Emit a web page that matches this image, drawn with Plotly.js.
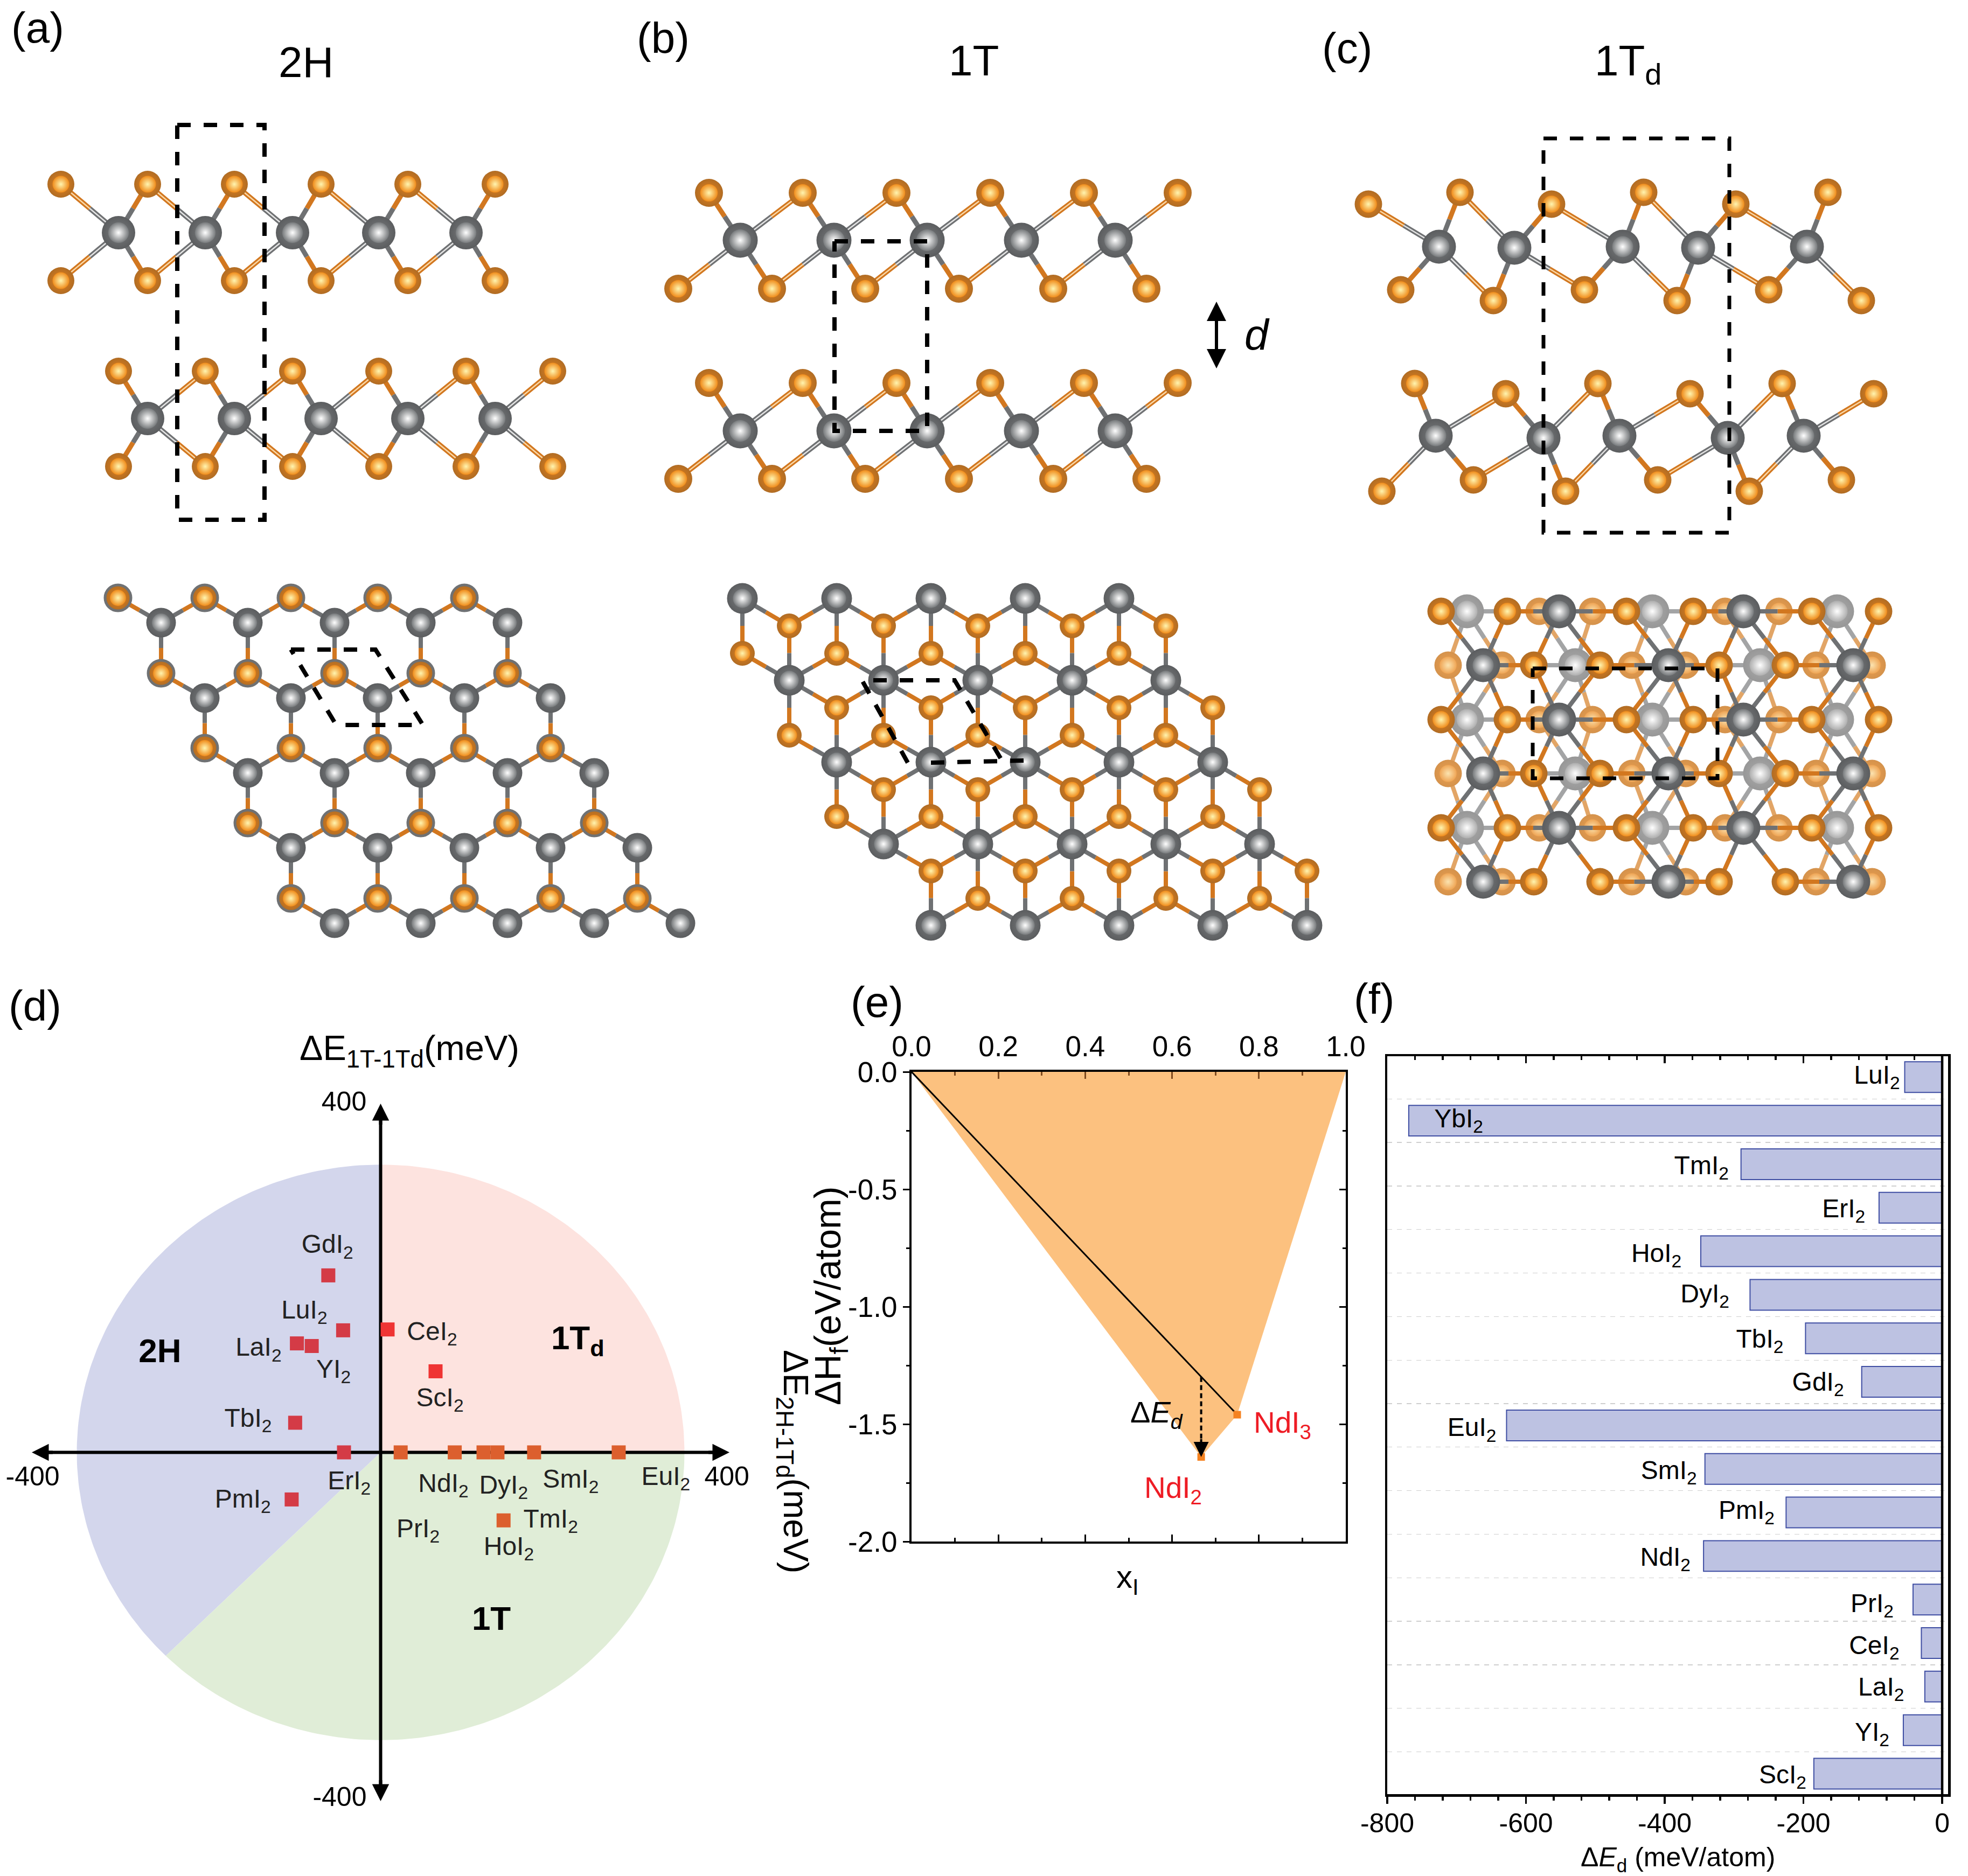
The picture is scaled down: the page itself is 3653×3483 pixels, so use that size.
<!DOCTYPE html>
<html><head><meta charset="utf-8">
<script src="https://cdn.plot.ly/plotly-3.0.1.min.js"></script>
<style>html,body{margin:0;padding:0;background:#fff}</style></head>
<body><div id="chart" style="width:3653px;height:3483px"></div>
<script>
// ---------- panel (d) values ----------
const dNames = ['GdI','LuI','CeI','LaI','YI','ScI','TbI','ErI','PmI','PrI','NdI','DyI','HoI','SmI','EuI','TmI'];
const dX = [-60,-43,8,-96,-79,63,-98,-42,-102,23,85,118,134,176,273,141];
const dY = [203,140,141,125,122,93,34,0,-54,0,0,0,0,0,0,-78];
const dLabelNames = ['GdI','LuI','CeI','LaI','YI','ScI','TbI','ErI','PmI','NdI','DyI','SmI','EuI','PrI','TmI','HoI'];
const dLabelX = [-61,-87.5,59,-140,-54,68,-152,-36,-158,72,141,218,327,43,195,147];
const dLabelY = [236,161,136,118,93,60,37,-35,-56,-38,-40,-33,-30,-90,-79,-110];
// ---------- panel (e) values ----------
const eHullX = [0,0.667,0.75,1,0];
const eHullY = [0,-1.64,-1.46,0,0];
const eTieX = [0,0.75];
const eTieY = [0,-1.46];
const ePhaseX = [0.667,0.75];
const ePhaseY = [-1.64,-1.46];
const eXTicks = [0,0.2,0.4,0.6,0.8,1];
const eXText = ['0.0','0.2','0.4','0.6','0.8','1.0'];
const eYTicks = [0,-0.5,-1,-1.5,-2];
const eYText = ['0.0','-0.5','-1.0','-1.5','-2.0'];
// ---------- panel (f) values ----------
const fNames = ['LuI','YbI','TmI','ErI','HoI','DyI','TbI','GdI','EuI','SmI','PmI','NdI','PrI','CeI','LaI','YI','ScI'];
const fValues = [-54,-769,-290,-91,-348,-277,-197,-116,-628,-342,-225,-344,-42,-30,-25,-56,-185];
const fLabelX = [-94,-697,-347,-142,-412,-342,-263,-179,-678,-394,-282,-399,-101,-98,-88,-101,-230];
const fLabelY = [0,1,2.08,3.07,4.1,5.03,6.07,7.05,8.1,9.08,10,11.07,12.14,13.1,14.06,15.1,16.07];
const fXTicks = [-800,-600,-400,-200,0];
const fXText = ['-800','-600','-400','-200','0'];
// ---------- crystal structures: [row y, [atom x ...]] ----------
const aSideI = [[342,[113,274,435,596,757,919]],[521,[113,274,435,596,757,919]],[689,[220,381,543,703,865,1026]],[866,[220,381,543,703,865,1026]]];
const aSideM = [[432,[220,381,543,703,865]],[777,[274,435,596,757,919]]];
const aTopI = [[1110,[219,380,540,701,862]],[1250,[299,460,621,781,942]],[1389,[380,540,701,862,1022]],[1528,[460,621,781,942,1103]],[1668,[540,701,862,1022,1183]]];
const aTopM = [[1156,[299,460,621,781,942]],[1296,[380,540,701,862,1022]],[1435,[460,621,781,942,1103]],[1574,[540,701,862,1022,1183]],[1714,[621,781,942,1103,1263]]];
const bSideI = [[358,[1316,1490,1664,1838,2012,2186]],[536,[1259,1433,1606,1780,1955,2128]],[711,[1316,1490,1664,1838,2012,2186]],[889,[1259,1433,1606,1780,1955,2128]]];
const bSideM = [[446,[1374,1548,1721,1896,2070]],[800,[1374,1548,1721,1896,2070]]];
const bTopI = [[1162,[1465,1640,1815,1990,2164]],[1213,[1378,1553,1728,1903,2077]],[1314,[1553,1728,1903,2077,2251]],[1365,[1465,1640,1815,1990,2164]],[1466,[1640,1815,1990,2164,2338]],[1516,[1553,1728,1903,2077,2251]],[1617,[1728,1903,2077,2251,2426]],[1668,[1815,1990,2164,2338]]];
const bTopM = [[1111,[1378,1553,1728,1903,2077]],[1263,[1465,1640,1815,1990,2164]],[1415,[1553,1728,1903,2077,2251]],[1567,[1640,1815,1990,2164,2338]],[1718,[1728,1903,2077,2251,2426]]];
const cSideI = [[379,[2540,2880,3222]],[357,[2710,3051,3393]],[538,[2600,2941,3283]],[558,[2772,3113,3455]],[712,[2626,2966,3308]],[731,[2795,3137,3478]],[912,[2565,2906,3247]],[891,[2735,3077,3418]]];
const cSideMTop = [[458,[2671,3012,3354]],[460,[2811,3152]]];
const cSideMBottom = [[809,[2665,3006,3348]],[813,[2865,3207]]];
const cTopFrontI = [[1135,[2675,2798,3019,3143,3363,3487]],[1235,[2847,2970,3191,3314]],[1336,[2675,2798,3019,3143,3363,3487]],[1436,[2847,2970,3191,3314]],[1537,[2675,2798,3019,3143,3363,3487]],[1637,[2847,2970,3191,3314]]];
const cTopFrontM = [[1135,[2894,3236]],[1235,[2753,3097,3440]],[1336,[2894,3236]],[1436,[2753,3097,3440]],[1537,[2894,3236]],[1637,[2753,3097,3440]]];
const cTopBackI = [[1135,[2857,2956,3202,3302]],[1235,[2688,2788,3029,3129,3371,3475]],[1336,[2857,2956,3202,3302]],[1436,[2688,2788,3029,3129,3371,3475]],[1537,[2857,2956,3202,3302]],[1637,[2688,2788,3029,3129,3371,3475]]];
const cTopBackM = [[1135,[2723,3067,3410]],[1235,[2924,3267]],[1336,[2723,3067,3410]],[1436,[2924,3267]],[1537,[2723,3067,3410]]];
// unit-cell outlines (x list, y list)
const aSideCell = [[329,491,491,329,329],[232,232,965,965,232]];
const aTopCell = [[540,697,785,624,540],[1206,1206,1346,1346,1206]];
const bSideCell = [[1549,1721,1721,1549,1549],[448,448,800,800,448]];
const bTopCell = [[1685,1600,1772,1861,null,1728,1902],[1416,1263,1263,1414,null,1416,1412]];
const cSideCell = [[2865,3210,3210,2865,2865],[257,257,989,989,257]];
const cTopCell = [[2845,3188,3188,2845,2845],[1241,1241,1445,1445,1241]];

// ---------- helpers ----------
const W = 3653, H = 3483, FONT = '"Liberation Sans", Arial, sans-serif';
const ORANGE = '#d2771f', GREY = '#6f7173';
const data = [];
function flat(rows){const o=[];rows.forEach(r=>r[1].forEach(x=>o.push([x,r[0]])));return o;}
function domX(a,b){return [a/W,b/W];}
function domY(top,bottom){return [1-bottom/H,1-top/H];}
function bonds(M,I,maxD,width,stripeMin,pale){
  const ox=[],oy=[],gx=[],gy=[],sox=[],soy=[],sgx=[],sgy=[];
  M.forEach(m=>I.forEach(i=>{
    const d=Math.hypot(m[0]-i[0],m[1]-i[1]);
    if(d>maxD) return;
    const mx=(m[0]+i[0])/2,my=(m[1]+i[1])/2;
    ox.push(i[0],mx,null);oy.push(i[1],my,null);
    gx.push(mx,m[0],null);gy.push(my,m[1],null);
    if(stripeMin&&d>stripeMin){sox.push(i[0],mx,null);soy.push(i[1],my,null);sgx.push(mx,m[0],null);sgy.push(my,m[1],null);}
  }));
  const add=(x,y,c,w)=>data.push({type:'scatter',mode:'lines',x,y,xaxis:'x',yaxis:'y',line:{color:c,width:w},hoverinfo:'skip',showlegend:false});
  add(ox,oy,pale?'#e2a566':ORANGE,width);add(gx,gy,pale?'#a3a4a5':GREY,width);
  if(sox.length){add(sox,soy,'#fbd9a8',2.5);add(sgx,sgy,'#e6e6e6',2.5);}
}
const PALETTE = {
  I:{edge:'#b06c24',mid:'#e98319',hi:'#fff5b0',hiEdge:'#f08d1c'},
  M:{edge:'#5b5d5f',mid:'#7b7d7f',hi:'#ffffff',hiEdge:'#777a7c'},
  Ib:{edge:'#d4924c',mid:'#eda04e',hi:'#fbe3b0',hiEdge:'#efa555'},
  Mb:{edge:'#979797',mid:'#ababab',hi:'#ffffff',hiEdge:'#aeaeae'}
};
function atoms(list,d,kind,ring){
  const c = PALETTE[kind];
  const x=list.map(p=>p[0]),y=list.map(p=>p[1]);
  const base={type:'scatter',mode:'markers',x,y,xaxis:'x',yaxis:'y',hoverinfo:'skip',showlegend:false,cliponaxis:false};
  data.push(Object.assign({},base,{marker:{size:d,color:c.edge,gradient:{type:'radial',color:c.mid},line:ring?{width:5,color:GREY}:{width:0}}}));
  data.push(Object.assign({},base,{marker:{size:d*0.62,color:c.hiEdge,opacity:0.999,gradient:{type:'radial',color:c.hi},line:{width:0}}}));
}
function cell(c,w){
  data.push({type:'scatter',mode:'lines',x:c[0],y:c[1],xaxis:'x',yaxis:'y',line:{color:'#000',width:w||8,dash:'25px,24px'},hoverinfo:'skip',showlegend:false});
}
function structure(I,M,maxD,dI,dM,bw,stripe,ring){
  const i=flat(I),m=flat(M);
  bonds(m,i,maxD,bw,stripe);
  atoms(i,dI,'I',ring);
  atoms(m,dM,'M');
}
const sub2 = s => s+'<sub>2</sub>';
const anns = [];
function txt(x,y,text,size,o){
  anns.push(Object.assign({xref:'x',yref:'y',x,y,text,showarrow:false,xanchor:'center',yanchor:'middle',font:{family:FONT,size,color:'#000'}},o||{}));
}
function arrowHead(xr,yr,x,y,ax,ay,width,size,color){
  anns.push({xref:xr,yref:yr,axref:xr,ayref:yr,x,y,ax,ay,text:'',showarrow:true,arrowhead:2,arrowwidth:width,arrowsize:size,arrowcolor:color||'#000',standoff:0,startstandoff:0});
}

// ---------- crystal structures ----------
structure(aSideI,aSideM,150,50,62,9,125);
structure(aTopI,aTopM,100,48,55,8,0,true);
structure(bSideI,bSideM,150,52,65,9,125);
structure(bTopI,bTopM,105,46,57,8);
(function(){
  const i=flat(cSideI),mt=flat(cSideMTop),mb=flat(cSideMBottom);
  bonds(mt,i,160,9,125);bonds(mb,i,160,9,125);
  atoms(i,51,'I');atoms(mt.concat(mb),63,'M');
  const bi=flat(cTopBackI),bm=flat(cTopBackM),fi=flat(cTopFrontI),fm=flat(cTopFrontM);
  bonds(bm,bi,140,8,0,true);
  atoms(bi,51,'Ib');atoms(bm,63,'Mb');
  bonds(fm,fi,130,8);
  atoms(fi,51,'I');atoms(fm,63,'M');
})();
cell(aSideCell);cell(aTopCell);cell(bSideCell);cell(bTopCell);cell(cSideCell,7);cell(cTopCell,7);
// interlayer distance marker
data.push({type:'scatter',mode:'lines',x:[2258,2258],y:[590,655],xaxis:'x',yaxis:'y',line:{color:'#000',width:6},hoverinfo:'skip',showlegend:false});
arrowHead('x','y',2258,560,2258,600,6,1.2);
arrowHead('x','y',2258,684,2258,644,6,1.2);

// ---------- panel (d) ----------
const RX=348.4, RY=330;
function wedge(a0,a1,color){ // region outline of the phase map
  const x=[0],y=[0];
  for(let a=a0;a<=a1+1e-6;a+=1){x.push(RX*Math.cos(a*Math.PI/180));y.push(RY*Math.sin(a*Math.PI/180));}
  x.push(0);y.push(0);
  data.push({type:'scatter',mode:'lines',x,y,xaxis:'x2',yaxis:'y2',fill:'toself',fillcolor:color,line:{width:0,color:color},hoverinfo:'skip',showlegend:false});
}
wedge(0,90,'#fde3df');wedge(90,225,'#d3d6ec');wedge(225,360,'#e0edd7');
data.push({type:'scatter',mode:'lines',x:[-385,385,null,0,0],y:[0,0,null,-385,385],xaxis:'x2',yaxis:'y2',line:{color:'#000',width:6},hoverinfo:'skip',showlegend:false});
data.push({type:'scatter',mode:'markers',x:dX,y:dY,text:dNames,xaxis:'x2',yaxis:'y2',hoverinfo:'text',showlegend:false,
  marker:{symbol:'square',size:26,line:{width:0},color:dX.map((x,i)=>x<0?'#d43b46':(dY[i]>0?'#ef3433':'#dc5f2e'))}});
data.push({type:'scatter',mode:'text',x:dLabelX,y:dLabelY,text:dLabelNames.map(sub2),xaxis:'x2',yaxis:'y2',textposition:'middle center',cliponaxis:false,hoverinfo:'skip',showlegend:false,
  textfont:{family:FONT,size:48,color:'#222'}});
data.push({type:'scatter',mode:'text',x:[-42,-399,397,-47],y:[400,-30,-30,-398],text:['400','-400','400','-400'],xaxis:'x2',yaxis:'y2',textposition:'middle center',cliponaxis:false,hoverinfo:'skip',showlegend:false,
  textfont:{family:FONT,size:50,color:'#000'}});
data.push({type:'scatter',mode:'text',x:[-253,226,127],y:[113,128,-194],text:['2H','1T<sub>d</sub>','1T'],xaxis:'x2',yaxis:'y2',textposition:'middle center',cliponaxis:false,hoverinfo:'skip',showlegend:false,
  textfont:{family:FONT,size:62,color:'#000',weight:'bold'}});
arrowHead('x2','y2',400,0,375,0,6,1.05);
arrowHead('x2','y2',-400,0,-375,0,6,1.05);
arrowHead('x2','y2',0,400,0,375,6,1.05);
arrowHead('x2','y2',0,-400,0,-375,6,1.05);

// ---------- panel (e) ----------
data.push({type:'scatter',mode:'lines',x:eHullX,y:eHullY,xaxis:'x3',yaxis:'y3',fill:'toself',fillcolor:'#fcc17f',line:{width:0,color:'#fcc17f'},hoverinfo:'skip',showlegend:false});
data.push({type:'scatter',mode:'lines',x:eTieX,y:eTieY,xaxis:'x3',yaxis:'y3',line:{color:'#000',width:3},hoverinfo:'skip',showlegend:false});
data.push({type:'scatter',mode:'markers',x:ePhaseX,y:ePhaseY,xaxis:'x3',yaxis:'y3',marker:{symbol:'square',size:14,color:'#f58220'},hoverinfo:'skip',showlegend:false});
data.push({type:'scatter',mode:'lines',x:[0.667,0.667],y:[-1.3,-1.58],xaxis:'x3',yaxis:'y3',line:{color:'#000',width:4,dash:'9px,6px'},hoverinfo:'skip',showlegend:false});
arrowHead('x3','y3',0.667,-1.64,0.667,-1.56,4,1.4);
data.push({type:'scatter',mode:'markers',x:[0],y:[0],xaxis:'x5',yaxis:'y5',marker:{opacity:0,size:1},hoverinfo:'skip',showlegend:false});

// ---------- panel (f) ----------
data.push({type:'bar',orientation:'h',x:fValues,y:fNames.map((n,i)=>i),base:0,width:0.705,xaxis:'x4',yaxis:'y4',marker:{color:'#bdc2e2',line:{color:'#3f4ea3',width:2}},text:fNames,textposition:'none',hoverinfo:'text',showlegend:false});
data.push({type:'scatter',mode:'lines',x:[0,0],y:[-0.48,16.47],xaxis:'x4',yaxis:'y4',line:{color:'#000',width:4.5},hoverinfo:'skip',showlegend:false});
data.push({type:'scatter',mode:'text',x:fLabelX,y:fLabelY,text:fNames.map(sub2),xaxis:'x4',yaxis:'y4',textposition:'middle center',cliponaxis:false,hoverinfo:'skip',showlegend:false,textfont:{family:FONT,size:48,color:'#000'}});
data.push({type:'scatter',mode:'markers',x:[0],y:[0],xaxis:'x6',yaxis:'y6',marker:{opacity:0,size:1},hoverinfo:'skip',showlegend:false});

// ---------- free text ----------
txt(70,51,'(a)',80);txt(1231,70,'(b)',80);txt(2500,89,'(c)',80);
txt(65,1867,'(d)',80);txt(1628,1860,'(e)',80);txt(2551,1854,'(f)',80);
txt(568,115,'2H',80);txt(1807,112,'1T',80);txt(3022,118,'1T<sub>d</sub>',80);
txt(2333,621,'<i>d</i>',80);
txt(760,1950,'ΔE<sub>1T-1Td</sub>(meV)',65);
txt(1473,2713,'ΔE<sub>2H-1Td</sub>(meV)',65,{textangle:90});
txt(1541,2406,'ΔH<sub>f</sub>(eV/atom)',68,{textangle:-90});
txt(2093,2932,'x<sub>I</sub>',60);
txt(2147,2625,'Δ<i>E<sub>d</sub></i>',56);
txt(2380,2645,'NdI<sub>3</sub>',55,{font:{family:FONT,size:55,color:'#ee1c25'}});
txt(2177,2766,'NdI<sub>2</sub>',55,{font:{family:FONT,size:55,color:'#ee1c25'}});
txt(3114,3451,'Δ<i>E</i><sub>d</sub> (meV/atom)',50);

// ---------- layout ----------
const hidden={visible:false,showgrid:false,zeroline:false,fixedrange:true};
const tf={family:FONT,size:53,color:'#000'};
const LW=4;
const layout={
  width:W,height:H,margin:{l:0,r:0,t:0,b:0,pad:0},autosize:false,paper_bgcolor:'#fff',plot_bgcolor:'rgba(0,0,0,0)',showlegend:false,
  bargap:0,annotations:anns,
  xaxis:Object.assign({},hidden,{domain:[0,1],range:[0,W],anchor:'y'}),
  yaxis:Object.assign({},hidden,{domain:[0,1],range:[H,0],anchor:'x'}),
  xaxis2:Object.assign({},hidden,{domain:domX(59,1354),range:[-400,400],anchor:'y2'}),
  yaxis2:Object.assign({},hidden,{domain:domY(2049,3344),range:[-400,400],anchor:'x2'}),
  // (e) bottom + left
  xaxis3:{domain:domX(1692,2498),range:[0,1],anchor:'y3',side:'bottom',showgrid:false,zeroline:false,showline:true,linecolor:'#000',linewidth:LW,
    ticks:'inside',ticklen:13,tickwidth:3,tickcolor:'#000',tickmode:'array',tickvals:eXTicks,showticklabels:false,
    minor:{ticks:'inside',ticklen:7,tickwidth:3,tickcolor:'#000',dtick:0.1,tick0:0}},
  yaxis3:{domain:domY(1990,2862),range:[-2,0],anchor:'x3',side:'left',showgrid:false,zeroline:false,showline:true,linecolor:'#000',linewidth:LW,
    ticks:'outside',ticklen:12,tickwidth:3,tickcolor:'#000',tickmode:'array',tickvals:eYTicks,ticktext:eYText,tickfont:tf,ticklabelstandoff:0,
    minor:{ticks:'outside',ticklen:6,tickwidth:3,tickcolor:'#000',dtick:0.25,tick0:0}},
  // (e) top + right
  xaxis5:{overlaying:'x3',range:[0,1],anchor:'y5',side:'top',showgrid:false,zeroline:false,showline:true,linecolor:'#000',linewidth:LW,
    ticks:'inside',ticklen:13,tickwidth:3,tickcolor:'#7f4a1f',tickmode:'array',tickvals:eXTicks,ticktext:eXText,tickfont:tf,ticklabelstandoff:4,
    minor:{ticks:'inside',ticklen:7,tickwidth:3,tickcolor:'#7f4a1f',dtick:0.1,tick0:0}},
  yaxis5:{overlaying:'y3',range:[-2,0],anchor:'x5',side:'right',showgrid:false,zeroline:false,showline:true,linecolor:'#000',linewidth:LW,
    ticks:'inside',ticklen:12,tickwidth:3,tickcolor:'#000',tickmode:'array',tickvals:eYTicks,showticklabels:false,
    minor:{ticks:'inside',ticklen:6,tickwidth:3,tickcolor:'#000',dtick:0.25,tick0:0}},
  // (f) bottom + left
  xaxis4:{domain:domX(2575,3616),range:[-800,8.5],anchor:'y4',side:'bottom',showgrid:false,zeroline:false,showline:true,linecolor:'#000',linewidth:4.5,
    ticks:'outside',ticklen:13,tickwidth:3.5,tickcolor:'#000',tickmode:'array',tickvals:fXTicks,ticktext:fXText,tickfont:{family:FONT,size:50,color:'#000'},ticklabelstandoff:-7,
    minor:{ticks:'outside',ticklen:7,tickwidth:3.5,tickcolor:'#000',dtick:40,tick0:0}},
  yaxis4:{domain:domY(1961,3331),range:[16.47,-0.48],anchor:'x4',side:'left',showline:true,linecolor:'#000',linewidth:4.5,zeroline:false,
    tickmode:'linear',tick0:0.5,dtick:1,ticks:'',showticklabels:false,showgrid:true,gridcolor:'#cfcfcf',gridwidth:1.3,griddash:'dash'},
  // (f) top + right
  xaxis6:{overlaying:'x4',range:[-800,8.5],anchor:'y6',side:'top',showgrid:false,zeroline:false,showline:true,linecolor:'#000',linewidth:4.5,
    ticks:'inside',ticklen:13,tickwidth:3.5,tickcolor:'#000',tickmode:'array',tickvals:fXTicks,showticklabels:false,
    minor:{ticks:'inside',ticklen:7,tickwidth:3.5,tickcolor:'#000',dtick:40,tick0:0}},
  yaxis6:{overlaying:'y4',range:[16.47,-0.48],anchor:'x6',side:'right',showgrid:false,zeroline:false,showline:true,linecolor:'#000',linewidth:4.5,ticks:'',showticklabels:false}
};
Plotly.newPlot('chart',data,layout,{staticPlot:true,displayModeBar:false});
</script></body></html>
